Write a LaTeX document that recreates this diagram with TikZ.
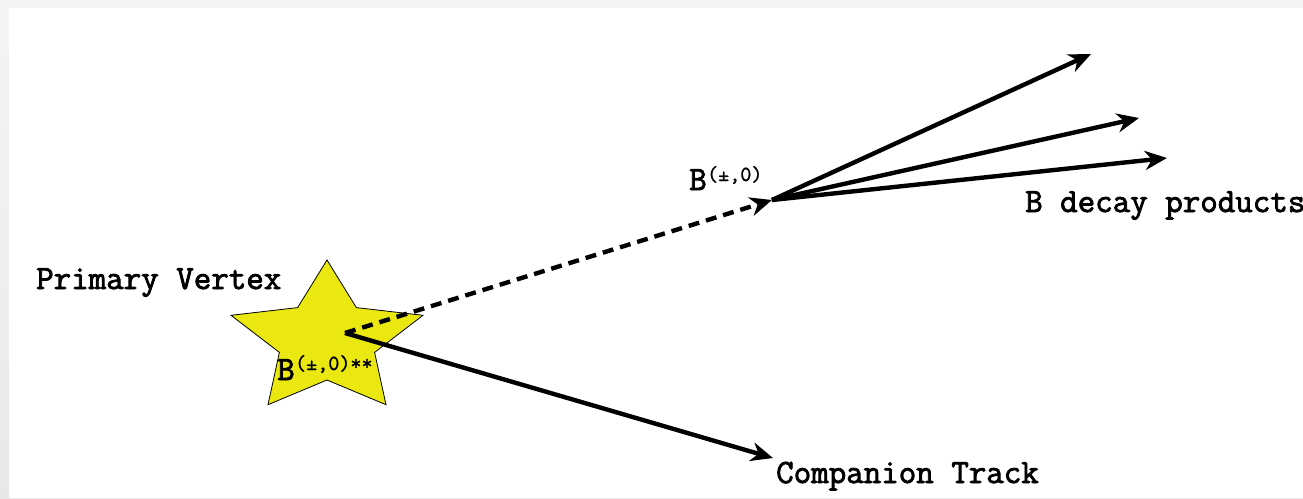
\documentclass[tikz,border=0pt]{standalone}
\usepackage{fontspec}
\newfontfamily\heavymono{Latin Modern Mono}[FakeBold=2.4]
\newfontfamily\medmono{Latin Modern Mono}[FakeBold=1.2]
\usetikzlibrary{arrows.meta}
\definecolor{staryellow}{RGB}{234,232,16}
\begin{document}
\begin{tikzpicture}[x=1pt,y=-1pt,
  track/.style={line width=4.4pt,-{Stealth[length=22pt,width=19pt,inset=7pt]}},
  dashtrack/.style={track,dash pattern=on 11pt off 7pt},
  lbl/.style={inner sep=0pt,font=\fontsize{34}{39}\heavymono},
  sup/.style={inner sep=0pt,font=\fontsize{21.5}{24}\medmono}]
\useasboundingbox (0,0) rectangle (1303,498);
\shade[top color=black!4,bottom color=black!9] (0,0) rectangle (1303,498);
\fill[white] (9,8) rectangle (1303,498);
% star
\fill[staryellow,draw=black,line width=0.8pt]
  (327,260) -- (356.4,307.6) -- (423,315.3) -- (374.6,352.4) -- (386,404.7)
  -- (327,380) -- (268,404.7) -- (279.4,352.4) -- (231,315.3) -- (297.6,307.6) -- cycle;
\coordinate (pv) at (345,333);
\coordinate (bv) at (772,200);
\coordinate (d1) at (1091,54);
\coordinate (d2) at (1139,118);
\coordinate (d3) at (1167,158);
\coordinate (ct) at (773,458);
\draw[dashtrack] (pv) -- (bv);
\draw[track] (pv) -- (ct);
\draw[track] (bv) -- (d1);
\draw[track] (bv) -- (d2);
\draw[track] (bv) -- (d3);
% labels
\node[lbl,anchor=base west] (pvl) at (36,289) {Primary Vertex};
\node[lbl,anchor=base west] (ctl) at (776,483) {Companion Track};
\node[lbl,anchor=base west] (bdl) at (1025,212) {B decay products};
\node[lbl,anchor=base west] (bt) at (689,190) {B};
\node[sup,anchor=base west,yshift=9pt] (bts) at (bt.base east) {(±,0)};
\node[lbl,anchor=base west] (bs) at (277,380) {B};
\node[sup,anchor=base west,yshift=10pt] (bss) at (bs.base east) {(±,0)**};
\end{tikzpicture}
\end{document}
